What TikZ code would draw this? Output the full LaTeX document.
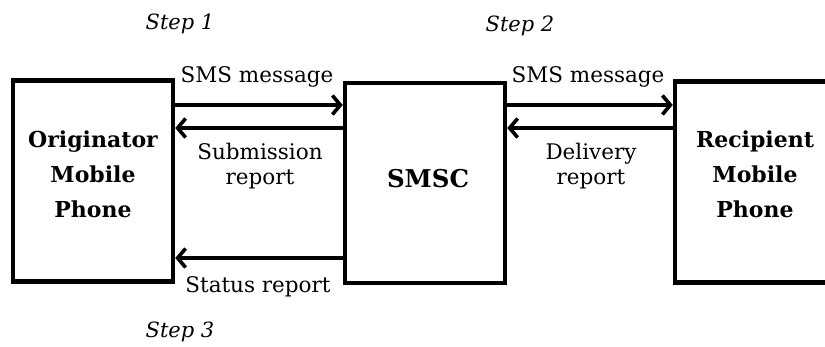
\documentclass[tikz,border=0pt]{standalone}
\usepackage{fontspec}
\setmainfont{DejaVu Serif}
\usetikzlibrary{arrows.meta}
\tikzset{
  box/.style={draw, line width=4.5pt, rectangle, inner sep=0pt},
  arr/.style={line width=3.6pt, -{Straight Barb[length=8pt,width=19pt,line width=3.6pt]}},
  lbl/.style={font=\fontsize{21.5}{25.5}\selectfont, align=center, inner sep=0pt},
  bl/.style={font=\bfseries\fontsize{22}{35}\selectfont, align=center, inner sep=0pt},
  steplbl/.style={font=\itshape\fontsize{21}{24}\selectfont, anchor=base, inner sep=0pt},
}
\begin{document}
\begin{tikzpicture}[x=1pt,y=-1pt]
\clip (0,0) rectangle (825,347);
\fill[white] (0,0) rectangle (825,347);
% boxes
\node[box, minimum width=160pt, minimum height=201pt] (orig) at (93,181) {};
\node[box, minimum width=160pt, minimum height=200pt] (smsc) at (425,183) {};
\node[box, minimum width=170pt, minimum height=201pt] (rcpt) at (760,182) {};
% box texts
\node[bl, anchor=base] (origt) at (93,218) {Originator\\Mobile\\Phone};
\node[bl, anchor=base, font=\bfseries\fontsize{24.5}{28}\selectfont] (smsct) at (428,188) {SMSC};
\node[bl, anchor=base] (rcptt) at (755,218) {Recipient\\Mobile\\Phone};
% arrows
\draw[arr] (orig.east |- 0,105) -- (smsc.west |- 0,105);
\draw[arr] (smsc.west |- 0,128) -- (orig.east |- 0,128);
\draw[arr] (smsc.west |- 0,258) -- (orig.east |- 0,258);
\draw[arr] (smsc.east |- 0,105) -- (rcpt.west |- 0,105);
\draw[arr] (rcpt.west |- 0,128) -- (smsc.east |- 0,128);
% labels
\node[lbl, anchor=base] (m1) at (257,83) {SMS message};
\node[lbl, anchor=base] (m2) at (588,83) {SMS message};
\node[lbl, anchor=base] (sub) at (260,185) {Submission\\report};
\node[lbl, anchor=base] (del) at (591,185) {Delivery\\report};
\node[lbl, anchor=base] (stat) at (258,293) {Status report};
\node[steplbl] (s1) at (180,30) {Step 1};
\node[steplbl] (s2) at (520,32) {Step 2};
\node[steplbl] (s3) at (180,338) {Step 3};
\end{tikzpicture}
\end{document}
